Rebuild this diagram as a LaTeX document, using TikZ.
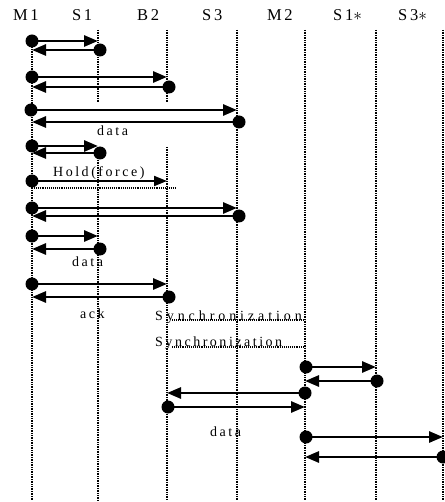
\documentclass[tikz,border=0pt]{standalone}
\usepackage{fontspec}
\setmainfont{Liberation Serif}
\newfontfamily\headfont[LetterSpace=16]{Liberation Serif}
\newfontfamily\labfont[LetterSpace=18]{Liberation Serif}
\newfontfamily\syncfontA[LetterSpace=28]{Liberation Serif}
\newfontfamily\syncfontB[LetterSpace=18]{Liberation Serif}
\usetikzlibrary{arrows.meta}

\tikzset{
  lifeline/.style={line width=1.5pt, dash pattern=on 1pt off 0.7pt},
  dot/.style={circle, fill=black, inner sep=0pt, minimum size=13pt},
  msg/.style={line width=2.8pt, -{Triangle[length=14pt,width=11pt]}},
  thinmsg/.style={line width=2pt, -{Triangle[length=13pt,width=10pt]}},
  syncline/.style={line width=1.4pt, dash pattern=on 1pt off 0.9pt},
  head/.style={anchor=base west, inner sep=0pt, font=\fontsize{16.5}{18}\headfont},
  lab/.style={anchor=base west, inner sep=0pt, font=\fontsize{14}{16}\labfont},
}

\begin{document}
\begin{tikzpicture}[x=1pt,y=-1pt]
\useasboundingbox (0,0) rectangle (444,502);

% column headings
\node[head] (hM1) at (13,21) {M1};
\node[head] (hS1) at (72,21) {S1};
\node[head] (hB2) at (137,21) {B2};
\node[head] (hS3) at (202,21) {S3};
\node[head] (hM2) at (267,21) {M2};
\node[head] (hS1s) at (333,21) {S1$\ast$};
\node[head] (hS3s) at (398,21) {S3$\ast$};

% lifeline end points
\coordinate (M1top) at (32,37);   \coordinate (M1bot) at (32,500);
\coordinate (S1top) at (98,30);   \coordinate (S1gapA) at (98,103);
\coordinate (S1gapB) at (98,148); \coordinate (S1bot) at (98,500);
\coordinate (B2top) at (167,30);  \coordinate (B2gapA) at (167,103);
\coordinate (B2gapB) at (167,147);\coordinate (B2bot) at (167,500);
\coordinate (S3top) at (237,30);  \coordinate (S3bot) at (237,500);
\coordinate (M2top) at (305,30);  \coordinate (M2bot) at (305,500);
\coordinate (S1stop) at (376,30); \coordinate (S1sbot) at (376,500);
\coordinate (S3stop) at (443,30); \coordinate (S3sbot) at (443,500);

\draw[lifeline] (M1top) -- (M1bot);
\draw[lifeline] (S1top) -- (S1gapA);
\draw[lifeline] (S1gapB) -- (S1bot);
\draw[lifeline] (B2top) -- (B2gapA);
\draw[lifeline] (B2gapB) -- (B2bot);
\draw[lifeline] (S3top) -- (S3bot);
\draw[lifeline] (M2top) -- (M2bot);
\draw[lifeline] (S1stop) -- (S1sbot);
\draw[lifeline] (S3stop) -- (S3sbot);

% M1 <-> S1
\node[dot] (a1) at (32,41) {};
\node[dot] (b1) at (100,50) {};
\draw[msg] (a1.center) -- (a1.center -| S1top);
\draw[msg] (b1.center) -- (b1.center -| M1top);

% M1 <-> B2
\node[dot] (a2) at (32,77) {};
\node[dot] (b2) at (169,87) {};
\draw[msg] (a2.center) -- (a2.center -| B2top);
\draw[msg] (b2.center) -- (b2.center -| M1top);

% M1 <-> S3, data
\node[dot] (a3) at (31,110) {};
\node[dot] (b3) at (239,122) {};
\draw[msg] (a3.center) -- (a3.center -| S3top);
\draw[msg] (b3.center) -- (b3.center -| M1top);
\node[lab] (l3) at (97,136) {data};

% M1 <-> S1
\node[dot] (a4) at (32,146) {};
\node[dot] (b4) at (100,153) {};
\draw[msg] (a4.center) -- (a4.center -| S1top);
\draw[msg] (b4.center) -- (b4.center -| M1top);

% Hold(force) towards B2
\node[dot] (a5) at (32,181) {};
\draw[thinmsg] (a5.center) -- (a5.center -| B2top);
\node[lab] (l5) at (53,177) {Hold(force)};
\coordinate (h5a) at (32,188);
\coordinate (h5b) at (176,188);
\draw[syncline] (h5a) -- (h5b);

% M1 <-> S3
\node[dot] (a6) at (32,208) {};
\node[dot] (b6) at (239,216) {};
\draw[msg] (a6.center) -- (a6.center -| S3top);
\draw[msg] (b6.center) -- (b6.center -| M1top);

% M1 <-> S1, data
\node[dot] (a7) at (32,236) {};
\node[dot] (b7) at (100,249) {};
\draw[msg] (a7.center) -- (a7.center -| S1top);
\draw[msg] (b7.center) -- (b7.center -| M1top);
\node[lab] (l7) at (72,266) {data};

% M1 <-> B2, ack
\node[dot] (a8) at (32,284) {};
\node[dot] (b8) at (169,297) {};
\draw[msg] (a8.center) -- (a8.center -| B2top);
\draw[msg] (b8.center) -- (b8.center -| M1top);
\node[lab] (l8) at (80,318) {ack};

% synchronization B2 .. M2
\node[anchor=base west, inner sep=0pt, font=\fontsize{14}{16}\syncfontA] (s1) at (155,320) {Synchronization};
\coordinate (s1a) at (172,320);
\coordinate (s1b) at (305,320);
\draw[syncline] (s1a) -- (s1b);
\node[anchor=base west, inner sep=0pt, font=\fontsize{14}{16}\syncfontB] (s2) at (155,346) {Synchronization};
\coordinate (s2a) at (172,347);
\coordinate (s2b) at (305,347);
\draw[syncline] (s2a) -- (s2b);

% M2 <-> S1*
\node[dot] (a11) at (306,367) {};
\node[dot] (b11) at (377,381) {};
\draw[msg] (a11.center) -- (a11.center -| S1stop);
\draw[msg] (b11.center) -- (b11.center -| M2top);

% M2 <-> B2, data
\node[dot] (a12) at (305,393) {};
\node[dot] (b12) at (168,407) {};
\draw[msg] (a12.center) -- (a12.center -| B2top);
\draw[msg] (b12.center) -- (b12.center -| M2top);
\node[lab] (l12) at (210,436) {data};

% M2 <-> S3*
\node[dot] (a13) at (306,437) {};
\node[dot] (b13) at (443,457) {};
\draw[msg] (a13.center) -- (a13.center -| S3stop);
\draw[msg] (b13.center) -- (b13.center -| M2top);
\end{tikzpicture}
\end{document}
